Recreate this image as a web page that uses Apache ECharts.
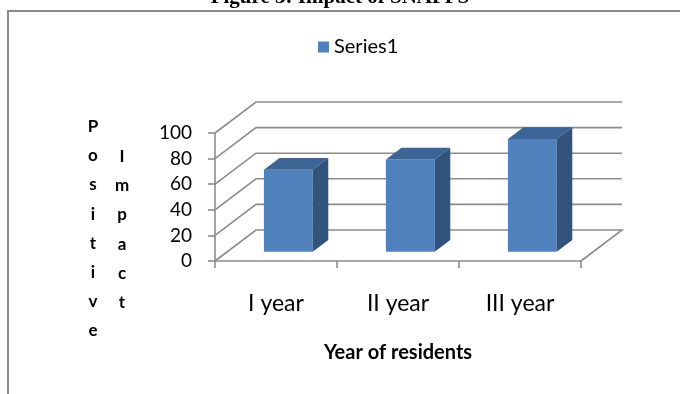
<!DOCTYPE html>
<html>
<head>
<meta charset="utf-8">
<script src="https://cdn.jsdelivr.net/npm/echarts@6/dist/echarts.min.js"></script>
<style>
  html, body { margin: 0; padding: 0; background: #fff; }
  #chart { width: 680px; height: 394px; }
</style>
</head>
<body>
<div id="chart"></div>
<script>
// data
var categories = ['I year', 'II year', 'III year'];
var impact = [64, 72, 88];
var yTicks = [0, 20, 40, 60, 80, 100];

// fake 3d depth (pixels) of the plot box
var DX = 41, DY = -31;
var BAR_OFF = 0.3, BAR_DEPTH = 0.38, BAR_W = 0.40;
var lineCol = '#8c8c8c';
var font = 'Lato, "Open Sans", sans-serif';

var chart = echarts.init(document.getElementById('chart'));

// walls / floor lines
function renderWall(params, api) {
    var cs = params.coordSys;
    var v = api.value(1);
    var p = api.coord([0, v]);
    var x0 = cs.x, x1 = cs.x + cs.width, y = p[1];
    var pts = [[x0, y], [x0 + DX, y + DY], [x1 + DX, y + DY]];
    if (v === 0) pts.push([x1, y]);
    return {
        type: 'polyline',
        shape: { points: pts },
        style: { stroke: lineCol, lineWidth: 1.6, fill: null }
    };
}

function renderBar(params, api) {
    var idx = api.value(0);
    var base = api.coord([idx, 0]);
    var top = api.coord([idx, api.value(1)]);
    var bw = api.size([1, 0])[0] * BAR_W;
    var ox = DX * BAR_OFF, oy = DY * BAR_OFF;
    var dx = DX * BAR_DEPTH, dy = DY * BAR_DEPTH;
    var xL = base[0] - bw / 2 + ox, xR = xL + bw;
    var yT = top[1] + oy, yB = base[1] + oy;
    return {
        type: 'group',
        children: [
            { type: 'rect', shape: { x: xL, y: yT, width: bw, height: yB - yT },
              style: { fill: '#4f81bd' } },
            { type: 'polygon', shape: { points: [[xL, yT], [xR, yT], [xR + dx, yT + dy], [xL + dx, yT + dy]] },
              style: { fill: '#3c6494' } },
            { type: 'polygon', shape: { points: [[xR, yT], [xR + dx, yT + dy], [xR + dx, yB + dy], [xR, yB]] },
              style: { fill: '#31537c' } }
        ]
    };
}

var option = {
    animation: false,
    title: {
        text: 'Figure 3: Impact of SNAPPS',
        left: 'center',
        top: -13,
        padding: 0,
        textStyle: { fontFamily: '"Liberation Serif", serif', fontSize: 21, fontWeight: 'bold', color: '#000' }
    },
    legend: {
        data: ['Series1'],
        left: 313,
        top: 32,
        icon: 'rect',
        itemWidth: 11,
        itemHeight: 11,
        itemGap: 5,
        textStyle: { fontFamily: font, fontSize: 20, color: '#000' }
    },
    grid: { left: 215, right: 99, top: 133, bottom: 133 },
    xAxis: {
        type: 'category',
        data: categories,
        name: 'Year of residents',
        nameLocation: 'middle',
        nameGap: 82,
        nameTextStyle: { fontFamily: font, fontSize: 20, fontWeight: 'bold', color: '#000' },
        axisLine: { lineStyle: { color: lineCol, width: 1.6 } },
        axisTick: { show: true, length: 7, lineStyle: { color: lineCol, width: 1.6 } },
        axisLabel: { margin: 31, fontFamily: font, fontSize: 23, color: '#000' }
    },
    yAxis: {
        type: 'value',
        min: 0,
        max: 100,
        interval: 20,
        splitLine: { show: false },
        axisLine: { show: true, lineStyle: { color: lineCol, width: 1.6 } },
        axisTick: { show: true, length: 7, lineStyle: { color: lineCol, width: 1.6 } },
        axisLabel: { margin: 23, fontFamily: font, fontSize: 19, color: '#000' }
    },
    graphic: [
        { type: 'rect', shape: { x: 8, y: 11, width: 720, height: 420 },
          style: { fill: null, stroke: '#8a8a8a', lineWidth: 2 } },
        { type: 'text', x: 93, y: 112,
          style: { text: 'P\no\ns\ni\nt\ni\nv\ne', align: 'center', verticalAlign: 'top',
                   lineHeight: 29.2, font: 'bold 17px ' + font, fill: '#000' } },
        { type: 'text', x: 122, y: 142,
          style: { text: 'I\nm\np\na\nc\nt', align: 'center', verticalAlign: 'top',
                   lineHeight: 29.2, font: 'bold 17px ' + font, fill: '#000' } }
    ],
    series: [
        {
            type: 'custom',
            clip: false,
            silent: true,
            z: 1,
            renderItem: renderWall,
            data: yTicks.map(function (v) { return [0, v]; })
        },
        {
            name: 'Series1',
            type: 'custom',
            clip: false,
            z: 3,
            itemStyle: { color: '#4f81bd' },
            renderItem: renderBar,
            data: impact.map(function (v, i) { return [i, v]; })
        }
    ]
};

chart.setOption(option);
</script>
</body>
</html>
